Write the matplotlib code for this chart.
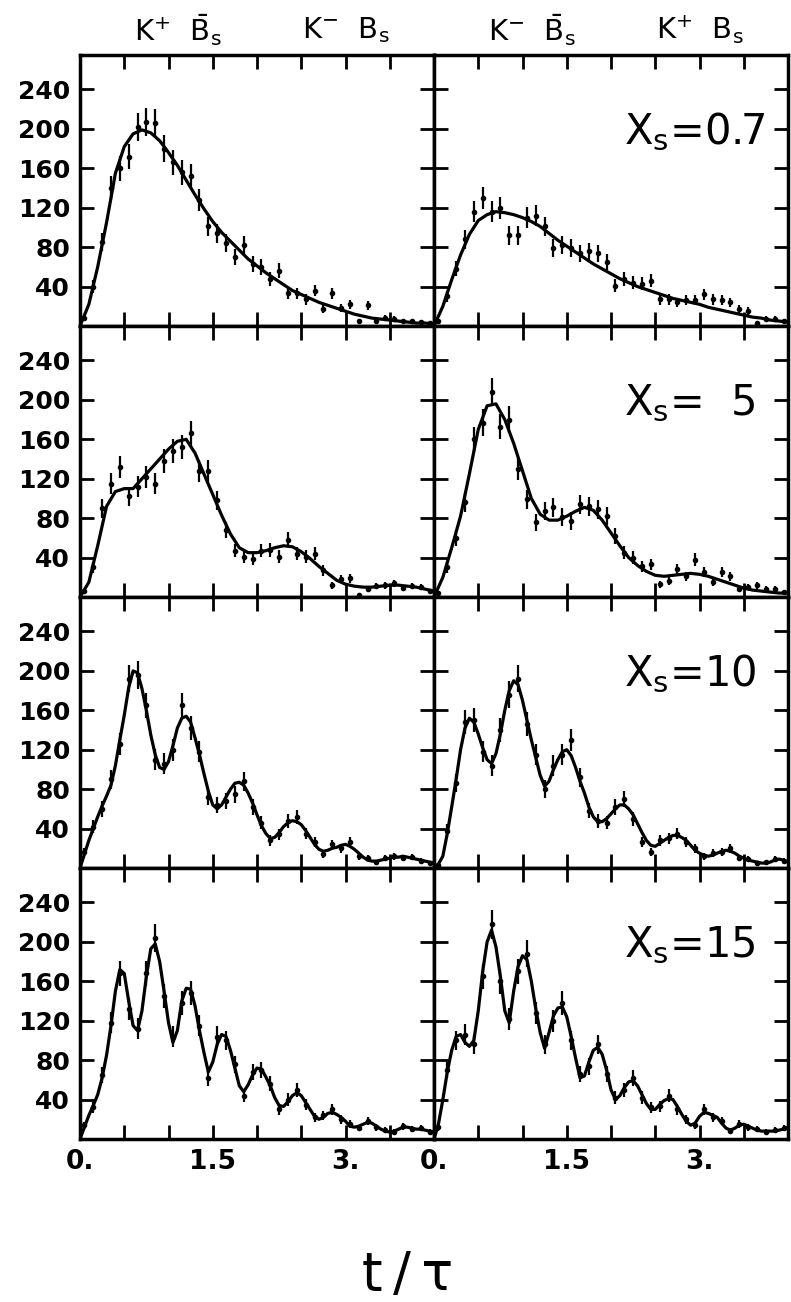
import numpy as np
import matplotlib.pyplot as plt

# time axis (units of t/tau)
t_fit = np.linspace(0, 4, 41)        # fit curves sampled every 0.1
t_fit_fine = np.linspace(0, 4, 81)   # fit curves sampled every 0.05
t_bins = np.linspace(0.05, 3.95, 40) # histogram bin centres

# x_s = 0.7
fit_07_left = [0, 22, 60, 105, 155, 182, 195, 199, 196, 188, 176, 163, 148, 133, 119, 106, 95, 86, 77, 68,
               61, 54, 48, 42, 36, 32, 28, 24, 21, 18, 15, 12, 10, 8, 7, 6, 5, 4, 3, 3, 2]
counts_07_left = [8, 40, 85, 140, 160, 172, 202, 207, 206, 180, 166, 156, 152, 128, 101, 94, 84, 70, 82, 63,
                  60, 48, 56, 33, 33, 27, 36, 17, 33, 18, 22, 5, 21, 5, 8, 7, 5, 5, 4, 3]
fit_07_right = [0, 20, 47, 72, 93, 107, 113, 116, 115, 113, 110, 106, 101, 94, 87, 81, 75, 69, 63, 58,
                53, 48, 44, 40, 37, 34, 31, 28, 26, 24, 22, 19, 17, 15, 13, 11, 9, 8, 6, 5, 4]
counts_07_right = [5, 30, 58, 88, 116, 130, 116, 120, 92, 92, 110, 112, 101, 79, 82, 79, 74, 76, 74, 65,
                   41, 48, 44, 43, 46, 27, 27, 24, 26, 26, 32, 27, 26, 24, 17, 15, 3, 7, 7, 5]

# x_s = 5
fit_5_left = [0, 15, 52, 92, 107, 110, 110, 120, 130, 140, 150, 158, 160, 146, 125, 104, 83, 64, 50, 45,
              45, 47, 50, 52, 51, 46, 39, 31, 24, 17, 13, 11, 10, 10, 11, 12, 12, 11, 10, 8, 6]
counts_5_left = [6, 30, 90, 115, 132, 102, 112, 122, 115, 138, 148, 152, 166, 128, 128, 98, 68, 47, 41, 39,
                 47, 48, 41, 58, 44, 41, 44, 27, 12, 18, 19, 2, 8, 11, 12, 14, 9, 11, 10, 6]
fit_5_right = [0, 20, 50, 82, 125, 170, 194, 196, 180, 156, 128, 100, 84, 78, 78, 82, 87, 91, 88, 78,
               65, 52, 40, 32, 26, 22, 21, 22, 23, 24, 23, 21, 18, 15, 12, 9, 7, 6, 5, 4, 4]
counts_5_right = [4, 30, 60, 96, 160, 177, 208, 173, 180, 130, 99, 76, 87, 91, 81, 77, 94, 92, 89, 82,
                  62, 45, 40, 31, 33, 13, 16, 28, 21, 38, 25, 15, 25, 21, 8, 10, 12, 8, 8, 5]

# x_s = 10
fit_10_left = [0, 14, 28, 40, 52, 63, 73, 84, 104, 130, 155, 183, 200, 198, 182, 160, 135, 115, 102, 100,
               108, 124, 142, 152, 154, 148, 132, 115, 96, 78, 64, 60, 64, 72, 80, 86, 87, 84, 76, 66,
               54, 43, 35, 30, 31, 36, 42, 46, 48, 47, 44, 38, 31, 24, 19, 17, 18, 20, 21, 23,
               24, 22, 19, 15, 11, 8, 7, 7, 8, 9, 10, 11, 11, 12, 11, 10, 9, 8, 7, 6, 5]
counts_10_left = [16, 42, 60, 90, 126, 192, 196, 165, 110, 106, 120, 165, 142, 118, 72, 64, 68, 75, 88, 62,
                  46, 28, 34, 48, 52, 35, 26, 14, 24, 20, 26, 12, 10, 6, 10, 12, 10, 11, 7, 5]
fit_10_right = [0, 4, 12, 35, 62, 90, 120, 142, 152, 148, 136, 122, 110, 106, 116, 136, 160, 180, 190, 186,
                170, 150, 130, 112, 94, 83, 88, 100, 110, 118, 120, 114, 102, 88, 76, 62, 52, 47, 47, 50,
                55, 60, 64, 64, 60, 54, 45, 36, 28, 23, 22, 25, 28, 31, 33, 33, 31, 28, 23, 18,
                15, 13, 12, 13, 15, 17, 18, 17, 15, 12, 10, 8, 7, 6, 5, 5, 6, 8, 9, 8, 6]
counts_10_right = [3, 38, 86, 148, 150, 118, 104, 140, 176, 192, 146, 115, 80, 104, 115, 130, 92, 58, 48, 46,
                   62, 70, 50, 26, 16, 28, 30, 35, 26, 20, 12, 15, 16, 20, 10, 9, 5, 6, 9, 7]

# x_s = 15
fit_15_left = [0, 12, 24, 34, 45, 62, 85, 115, 150, 172, 168, 140, 115, 110, 130, 165, 193, 198, 180, 150,
               118, 98, 110, 140, 153, 152, 135, 110, 88, 68, 78, 96, 106, 104, 90, 72, 54, 48, 55, 65,
               72, 71, 63, 54, 42, 34, 33, 38, 44, 47, 44, 37, 30, 23, 20, 22, 26, 27, 25, 22,
               18, 13, 12, 13, 15, 17, 16, 13, 10, 8, 7, 8, 10, 12, 12, 11, 10, 10, 9, 8, 7]
counts_15_left = [14, 32, 65, 118, 168, 132, 112, 168, 204, 145, 104, 138, 148, 115, 62, 104, 100, 76, 44, 68,
                  70, 56, 30, 40, 50, 35, 22, 24, 30, 20, 15, 11, 18, 12, 9, 7, 13, 10, 11, 7]
fit_15_right = [0, 15, 40, 68, 90, 104, 106, 98, 94, 100, 130, 170, 200, 212, 195, 165, 130, 118, 150, 175,
                186, 182, 160, 132, 108, 92, 108, 125, 133, 134, 124, 104, 82, 62, 64, 78, 90, 93, 86, 70,
                50, 40, 44, 52, 58, 59, 54, 45, 36, 30, 30, 35, 39, 41, 40, 33, 25, 18, 14, 16,
                23, 27, 26, 24, 22, 16, 11, 9, 11, 14, 15, 13, 11, 9, 8, 8, 8, 8, 9, 10, 12]
counts_15_right = [12, 70, 100, 106, 96, 165, 218, 160, 122, 170, 188, 128, 96, 120, 138, 100, 66, 74, 96, 66,
                   42, 50, 62, 42, 32, 33, 44, 30, 20, 14, 30, 22, 18, 8, 15, 12, 10, 7, 9, 11]

xs_labels = ['X$_\\mathrm{s}$=0.7', 'X$_\\mathrm{s}$=  5', 'X$_\\mathrm{s}$=10', 'X$_\\mathrm{s}$=15']
rows = [
    (t_fit, fit_07_left, counts_07_left, fit_07_right, counts_07_right),
    (t_fit, fit_5_left, counts_5_left, fit_5_right, counts_5_right),
    (t_fit_fine, fit_10_left, counts_10_left, fit_10_right, counts_10_right),
    (t_fit_fine, fit_15_left, counts_15_left, fit_15_right, counts_15_right),
]
y_ticks = [40, 80, 120, 160, 200, 240]
x_ticks = [0, 0.5, 1, 1.5, 2, 2.5, 3, 3.5]
x_ticklabels = ['0.', '', '', '1.5', '', '', '3.', '']
top_labels_left = [r'K$^{+}$  $\bar{\mathrm{B}}_{\mathrm{s}}$', r'K$^{-}$  B$_{\mathrm{s}}$']
top_labels_right = [r'K$^{-}$  $\bar{\mathrm{B}}_{\mathrm{s}}$', r'K$^{+}$  B$_{\mathrm{s}}$']

W, H = 791, 1302
fig = plt.figure(figsize=(W / 100, H / 100), dpi=100)

col_left = [80, 434]
col_w = 354
row_top = [55, 326, 597, 868]
row_h = 271

for r, (tf, fit_l, cnt_l, fit_r, cnt_r) in enumerate(rows):
    for c in range(2):
        ax = fig.add_axes([col_left[c] / W, (H - row_top[r] - row_h) / H, col_w / W, row_h / H])
        fit = fit_l if c == 0 else fit_r
        cnt = np.array(cnt_l if c == 0 else cnt_r, dtype=float)
        ax.plot(tf, fit, color='black', lw=2.3, zorder=3)
        ax.errorbar(t_bins, cnt, yerr=np.sqrt(cnt), fmt='o', ms=3, color='black',
                    elinewidth=1.6, capsize=0, zorder=4)
        ax.set_xlim(0, 4)
        ax.set_ylim(0, 275)
        for s in ax.spines.values():
            s.set_linewidth(2.5)
        ax.tick_params(axis='both', direction='in', top=True, right=True,
                       length=10, width=2, pad=7)
        ax.set_yticks(y_ticks)
        ax.set_xticks(x_ticks)
        if c == 0:
            ax.set_yticklabels([str(v) for v in y_ticks], fontsize=18, fontweight='bold')
        else:
            ax.set_yticklabels([])
        if r == 3:
            ax.set_xticklabels(x_ticklabels, fontsize=19, fontweight='bold')
        else:
            ax.set_xticklabels([])
        if c == 1:
            ax.text(2.15, 197, xs_labels[r], fontsize=30, ha='left', va='center')
        if r == 0:
            labels = top_labels_left if c == 0 else top_labels_right
            for xpos, lab in zip([1.1, 3.0], labels):
                ax.text(xpos, 1.092, lab, fontsize=21, ha='center', va='center',
                        transform=ax.get_xaxis_transform())

fig.text(408 / W, 12 / H, 't\u2009/\u2009τ', fontsize=38, ha='center', va='baseline')

fig.savefig('out.png', dpi=100)
